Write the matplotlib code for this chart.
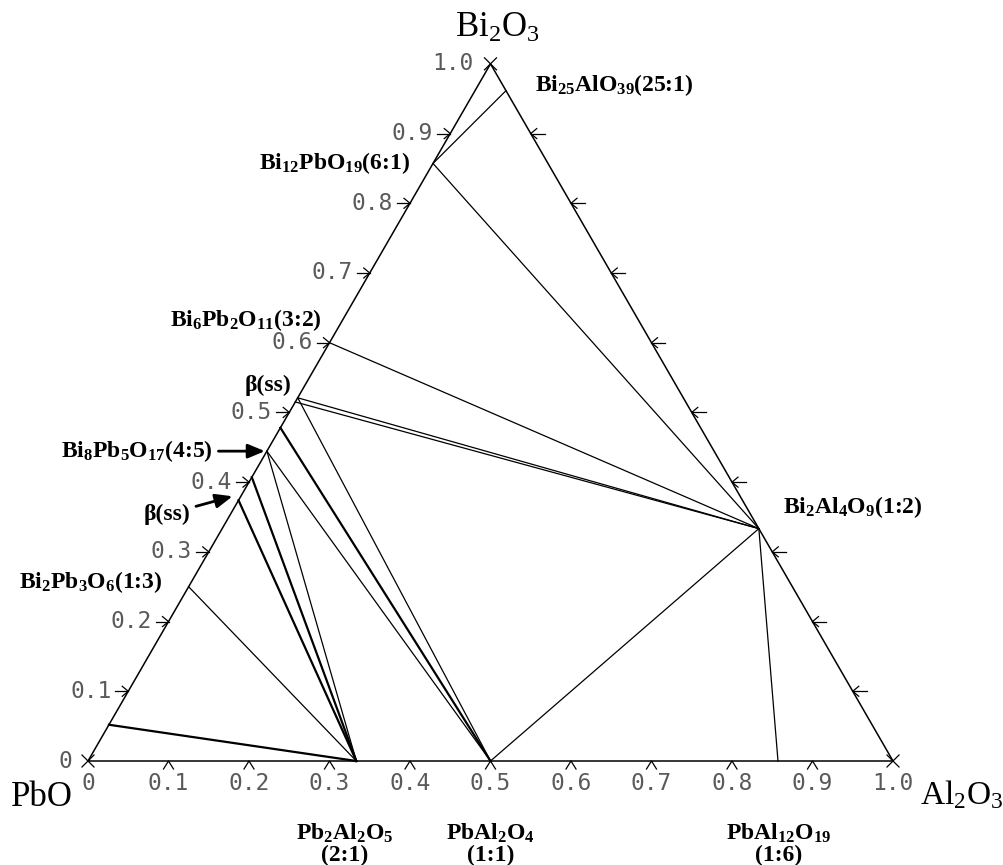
import numpy as np
import matplotlib
matplotlib.use("Agg")
import matplotlib.pyplot as plt

plt.rcParams["mathtext.fontset"] = "custom"
plt.rcParams["mathtext.rm"] = "Liberation Serif"
plt.rcParams["mathtext.bf"] = "Liberation Serif:bold"
plt.rcParams["mathtext.it"] = "Liberation Serif:italic"

# ---- compositions: (Bi2O3 fraction, Al2O3 fraction); PbO is the rest ----
BI25ALO39 = (25 / 26, 1 / 26)
BI12PBO19 = (6 / 7, 0.0)
BI6PB2O11 = (0.60, 0.0)
BSS_HIGH_A = (0.521, 0.0)
BSS_HIGH_B = (0.515, 0.0)
BSS_MID = (0.478, 0.0)
BI8PB5O17 = (4 / 9, 0.0)
BSS_LOW_A = (0.407, 0.0)
BSS_LOW_B = (0.374, 0.0)
BI2PB3O6 = (0.25, 0.0)
PBO_SS = (0.052, 0.0)
BI2AL4O9 = (1 / 3, 2 / 3)
PB2AL2O5 = (0.0, 1 / 3)
PBAL2O4 = (0.0, 0.5)
PBAL12O19 = (0.0, 6 / 7)

# tie lines: (start, end, weight)
tie_lines = [
    (BI25ALO39, BI12PBO19, "thin"),
    (BI12PBO19, BI2AL4O9, "thin"),
    (BI6PB2O11, BI2AL4O9, "thin"),
    (BSS_HIGH_A, BI2AL4O9, "thin"),
    (BSS_HIGH_B, BI2AL4O9, "thin"),
    (BSS_HIGH_A, PBAL2O4, "thin"),
    (BSS_MID, PBAL2O4, "thick"),
    (BI8PB5O17, PBAL2O4, "thin"),
    (BI8PB5O17, PB2AL2O5, "thin"),
    (BSS_LOW_A, PB2AL2O5, "thick"),
    (BSS_LOW_B, PB2AL2O5, "thick"),
    (BI2PB3O6, PB2AL2O5, "thin"),
    (PBO_SS, PB2AL2O5, "thick"),
    (BI2AL4O9, PBAL2O4, "thin"),
    (BI2AL4O9, PBAL12O19, "thin"),
]

tick_values = [0.0, 0.1, 0.2, 0.3, 0.4, 0.5, 0.6, 0.7, 0.8, 0.9, 1.0]
tick_labels = ["0", "0.1", "0.2", "0.3", "0.4", "0.5", "0.6", "0.7", "0.8", "0.9", "1.0"]

S3 = np.sqrt(3) / 2


def tern(p):
    b, a = p
    return a + b / 2, b * S3


PX = 1 / 805.0  # one pixel in data units


def pix(x, y):
    """figure pixel (from top-left) -> data coords"""
    return (x - 88) * PX, (761 - y) * PX


fig = plt.figure(figsize=(10.04, 8.65), dpi=100)
ax = fig.add_axes([0, 0, 1, 1])
ax.set_xlim(-88 * PX, 916 * PX)
ax.set_ylim(-104 * PX, 761 * PX)
ax.axis("off")

# triangle frame
corners = [tern((0, 0)), tern((0, 1)), tern((1, 0)), tern((0, 0))]
ax.plot([c[0] for c in corners], [c[1] for c in corners], color="black", lw=1.1,
        solid_joinstyle="miter")

# tie lines
for p1, p2, w in tie_lines:
    x1, y1 = tern(p1)
    x2, y2 = tern(p2)
    ax.plot([x1, x2], [y1, y2], color="black", lw=1.6 if w == "thick" else 0.9)

tick_col = "#5a5a5a"
tfont = dict(family="DejaVu Sans Mono", fontsize=16.5, color=tick_col)
tk = dict(color="black", lw=0.9)

for v, lab in zip(tick_values, tick_labels):
    # bottom axis (Al2O3)
    bx, by = tern((0, v))
    if 0 < v < 1:
        ax.plot([bx - 5 * PX, bx, bx + 5 * PX], [by - 8 * PX, by, by - 8 * PX], **tk)
    ax.text(bx, by - 22 * PX, lab, ha="center", va="center", **tfont)
    # left axis (Bi2O3)
    lx, ly = tern((v, 0))
    if v > 0:
        if v < 1:
            ax.plot([lx - 13 * PX, lx], [ly, ly], **tk)
            ax.plot([lx - 6 * PX, lx, lx - 6 * PX], [ly + 5 * PX, ly, ly - 5 * PX], **tk)
        ax.text(lx - 17 * PX, ly, lab, ha="right", va="center", **tfont)
    else:
        ax.text(lx - 16 * PX, ly, lab, ha="right", va="center", **tfont)
    # right axis ticks (no labels)
    if 0 < v < 1:
        rx, ry = tern((v, 1 - v))
        ax.plot([rx, rx + 14 * PX], [ry, ry], **tk)
        ax.plot([rx + 6 * PX, rx, rx + 6 * PX], [ry + 5 * PX, ry, ry - 5 * PX], **tk)

# corner crosses
for c in [(0, 0), (1, 0), (0, 1)]:
    cx, cy = tern(c)
    d = 6 * PX
    ax.plot([cx - d, cx + d], [cy - d, cy + d], **tk)
    ax.plot([cx - d, cx + d], [cy + d, cy - d], **tk)

# corner labels
cfont = dict(family="Liberation Serif", fontsize=25, color="black")
ax.text(*pix(497, 28), r"Bi$_{\mathrm{2}}$O$_{\mathrm{3}}$", ha="center", va="center", **cfont)
ax.text(*pix(42, 797), "PbO", ha="center", va="center", **cfont)
ax.text(*pix(962, 795), r"Al$_{\mathrm{2}}$O$_{\mathrm{3}}$", ha="center", va="center",
        family="Liberation Serif", fontsize=24, color="black")

# compound labels
lfont = dict(family="Liberation Serif", fontsize=17, fontweight="bold", color="black")


def lab_at(p, dx, dy, s, ha="left", va="center"):
    x, y = tern(p)
    ax.text(x + dx * PX, y + dy * PX, s, ha=ha, va=va, **lfont)


lab_at(BI25ALO39, 29, 6, r"Bi$_{\mathbf{25}}$AlO$_{\mathbf{39}}$(25:1)")
lab_at(BI12PBO19, -23, 0, r"Bi$_{\mathbf{12}}$PbO$_{\mathbf{19}}$(6:1)", ha="right")
lab_at(BI6PB2O11, -8, 23, r"Bi$_{\mathbf{6}}$Pb$_{\mathbf{2}}$O$_{\mathbf{11}}$(3:2)", ha="right")
lab_at(BSS_HIGH_A, -6, 12, r"β(ss)", ha="right")
lab_at(BI2PB3O6, -26, 5, r"Bi$_{\mathbf{2}}$Pb$_{\mathbf{3}}$O$_{\mathbf{6}}$(1:3)", ha="right")
lab_at(BI2AL4O9, 24, 22, r"Bi$_{\mathbf{2}}$Al$_{\mathbf{4}}$O$_{\mathbf{9}}$(1:2)")

# labels with arrows
bx8, by8 = tern(BI8PB5O17)
ax.annotate(r"Bi$_{\mathbf{8}}$Pb$_{\mathbf{5}}$O$_{\mathbf{17}}$(4:5)", xy=(bx8 - 2 * PX, by8),
            xytext=(bx8 - 54 * PX, by8), ha="right", va="center", **lfont,
            arrowprops=dict(arrowstyle="-|>,head_length=0.6,head_width=0.25", color="black",
                            lw=2.0, shrinkA=2, shrinkB=0))
bxl, byl = tern(BSS_LOW_B)
ax.annotate(r"β(ss)", xy=(bxl - 6 * PX, byl + 4 * PX),
            xytext=(bxl - 48 * PX, byl - 14 * PX), ha="right", va="center", **lfont,
            arrowprops=dict(arrowstyle="-|>,head_length=0.6,head_width=0.25", color="black",
                            lw=2.0, shrinkA=2, shrinkB=0))

# bottom compound labels
blabs = [
    (PB2AL2O5, -12, r"Pb$_{\mathbf{2}}$Al$_{\mathbf{2}}$O$_{\mathbf{5}}$", "(2:1)"),
    (PBAL2O4, 0, r"PbAl$_{\mathbf{2}}$O$_{\mathbf{4}}$", "(1:1)"),
    (PBAL12O19, 1, r"PbAl$_{\mathbf{12}}$O$_{\mathbf{19}}$", "(1:6)"),
]
for p, dx, s1, s2 in blabs:
    x, y = tern(p)
    ax.text(x + dx * PX, y - 72 * PX, s1, ha="center", va="center", **lfont)
    ax.text(x + dx * PX, y - 94 * PX, s2, ha="center", va="center", **lfont)

fig.savefig("out.png", dpi=100, facecolor="white")
